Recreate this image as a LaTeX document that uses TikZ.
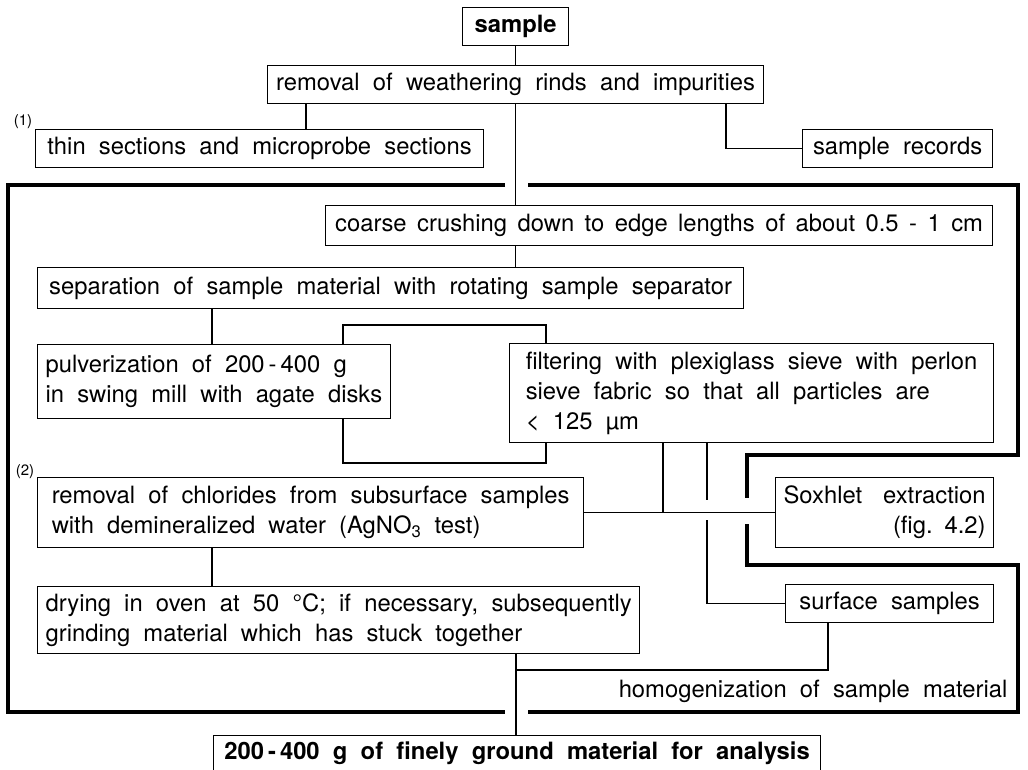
\documentclass[tikz,border=0pt]{standalone}
\usepackage{fontspec}
\setmainfont[WordSpace=2]{TeX Gyre Heros}
\newcommand{\txtfont}{\fontsize{23.8}{30}\selectfont}

\begin{document}
\begin{tikzpicture}[x=1pt, y=-1pt, line width=1.2pt, every node/.style={font=\txtfont}, box/.style={draw, anchor=north west, inner xsep=8pt, inner ysep=2pt, align=left}, note/.style={font=\fontsize{15}{15}\selectfont}, frame/.style={line width=4pt}]
	\clip (0,0) rectangle (1028,769);
	\node[box, font=\txtfont\bfseries, minimum width=106pt, minimum height=38pt] (sample) at (462,7) {sample};
	\node[box, minimum width=496pt, minimum height=38pt] (removal) at (267,65) {removal of weathering rinds and impurities};
	\node[box, minimum width=448pt, minimum height=38pt] (thin) at (35,129) {thin sections and microprobe sections};
	\node[box, minimum width=190pt, minimum height=38pt] (records) at (802,129) {sample records};
	\node[box, minimum width=667pt, minimum height=40pt] (coarse) at (325,205) {\spaceskip=0.44em coarse crushing down to edge lengths of about 0.5 - 1 cm};
	\node[box, minimum width=706pt, minimum height=41pt] (sep) at (37,267) {separation of sample material with rotating sample separator};
	\node[box, minimum width=344pt, minimum height=74pt] (pulv) at (37,344) {pulverization of 200\,-\,400 g\\in swing mill with agate disks};
	\node[box, minimum width=484pt, minimum height=99pt] (filter) at (509,343) {filtering with plexiglass sieve with perlon\\sieve fabric so that all particles are\\< 125 µm};
	\node[box, minimum width=546pt, minimum height=70pt] (chlor) at (37,477) {removal of chlorides from subsurface samples\\with demineralized water (AgNO\textsubscript{3} test)};
	\node[box, align=right, text width=202pt, minimum height=70pt] (soxh) at (775,477) {Soxhlet\hfill extraction\\(fig. 4.2)};
	\node[box, minimum width=588pt, minimum height=67pt] (dry) at (37,586) {drying in oven at 50 °C; if necessary, subsequently\\grinding material which has stuck together};
	\node[box, minimum width=208pt, minimum height=38pt] (surf) at (785,584) {surface samples};
	\node[anchor=east, inner sep=0pt] (homog) at (1008,691) {homogenization of sample material};
	\node[box, font=\txtfont\bfseries, minimum width=607pt, minimum height=36pt] (final) at (213,735) {200\,-\,400 g of finely ground material for analysis};
	\node[note] (n1) at (23,122) {(1)};
	\node[note] (n2) at (25,472) {(2)};
	% bends and crossings
	\coordinate (loopTL) at (343,325);
	\coordinate (loopTR) at (546,325);
	\coordinate (loopBL) at (343,463);
	\coordinate (loopBR) at (546,463);
	\coordinate (join) at (663,512);
	\coordinate (hopT) at (707,500);
	\coordinate (hopB) at (707,520);
	\coordinate (merge) at (516,670);
	% connectors
	\draw (sample) -- (removal);
	\draw (removal.south -| 306,0) -- (thin.north -| 306,0);
	\draw (removal.south -| 726,0) |- (records);
	\draw (removal.south) -- (removal.south |- coarse.north);
	\draw (coarse.south -| removal.south) -- (sep.north -| removal.south);
	\draw (sep.south -| 212,0) -- (pulv.north -| 212,0);
	\draw (pulv.north -| loopTL) |- (loopTR) -- (filter.north -| loopTR);
	\draw (pulv.south -| loopBL) |- (loopBR) -- (filter.south -| loopBR);
	\draw (chlor.east) -- (soxh.west);
	\draw (filter.south -| join) -- (join);
	\draw (filter.south -| hopT) -- (hopT);
	\draw (hopB) |- (surf.west);
	\draw (chlor.south -| 212,0) -- (dry.north -| 212,0);
	\draw (surf.south -| 828,0) |- (merge);
	\draw (dry.south -| merge) -- (final.north -| merge);
	% thick frame
	\draw[frame] (505,185) -- (8,185) -- (8,712) -- (505,712);
	\draw[frame] (528,185) -- (1018,185) -- (1018,455) -- (747,455) -- (747,498);
	\draw[frame] (747,524) -- (747,565) -- (1018,565) -- (1018,712) -- (528,712);
\end{tikzpicture}
\end{document}
